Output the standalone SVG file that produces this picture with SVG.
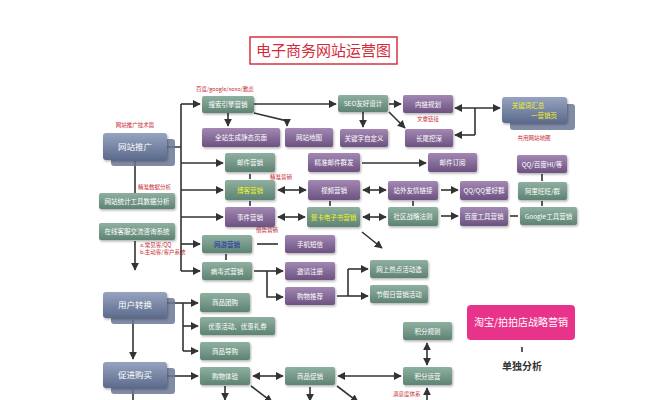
<svg xmlns="http://www.w3.org/2000/svg" width="667" height="400" viewBox="0 0 667 400">
<defs>
<linearGradient id="gg" x1="0" y1="0" x2="0" y2="1"><stop offset="0" stop-color="#8fb0a0"/><stop offset="1" stop-color="#5e8373"/></linearGradient>
<linearGradient id="gp" x1="0" y1="0" x2="0" y2="1"><stop offset="0" stop-color="#a288b2"/><stop offset="1" stop-color="#6d5282"/></linearGradient>
<linearGradient id="gb" x1="0" y1="0" x2="0" y2="1"><stop offset="0" stop-color="#97a4c0"/><stop offset="1" stop-color="#5b6a8c"/></linearGradient>
<filter id="sh" x="-20%" y="-20%" width="140%" height="160%"><feDropShadow dx="1" dy="1.5" stdDeviation="1" flood-color="#000" flood-opacity="0.3"/></filter>
<marker id="ar" viewBox="0 0 10 10" refX="9" refY="5" markerWidth="5" markerHeight="5" orient="auto-start-reverse"><path d="M0,0 L10,5 L0,10 z" fill="#333"/></marker>
</defs>
<style>
text{font-family:"Noto Sans CJK SC","Noto Sans",sans-serif}
.g{fill:url(#gg);filter:url(#sh)}
.p{fill:url(#gp);filter:url(#sh)}
.b{fill:url(#gb);filter:url(#sh)}
.bs{fill:#6a7797;opacity:0.85}
.t{fill:#fff;font-size:6.5px;text-anchor:middle}
.tb{fill:#fff;font-size:8.5px;text-anchor:middle}
.ty{fill:#f2f21a;font-size:6.5px;text-anchor:middle}
.r{fill:#c62a33;font-size:5.5px}
.c{stroke:#333;stroke-width:1.6;fill:none}
.a{marker-end:url(#ar)}
.d{marker-start:url(#ar);marker-end:url(#ar)}
</style>
<rect width="667" height="400" fill="#fff"/>

<g id="title">
<rect x="250" y="37" width="147" height="27" fill="#fff" stroke="#d9333f" stroke-width="1.5"/>
<text x="323.5" y="56" font-size="15" fill="#d42a3a" text-anchor="middle">电子商务网站运营图</text>
</g>

<g id="labels">
<text class="r" x="135" y="127" text-anchor="middle">网站推广技术篇</text>
<text class="r" x="196" y="91">百度/google/soso/雅虎</text>
<text class="r" x="428" y="121" text-anchor="middle">文章链接</text>
<text class="r" x="534" y="140" text-anchor="middle">共用网站地图</text>
<text class="r" x="138" y="189">精准数据分析</text>
<text class="r" x="140" y="247">a.常见客/QQ</text>
<text class="r" x="140" y="254">b.主动客/客户系统</text>
<text class="r" x="270" y="179">精准营销</text>
<text class="r" x="256" y="232">借势营销</text>
<text class="r" x="393" y="396">满意度体系</text>
</g>

<g id="connectors">
<path class="c" d="M167,147 H181 M181,104 V271"/>
<path class="c a" d="M181,104 H200"/>
<path class="c a" d="M181,163 H223"/>
<path class="c a" d="M181,190 H223"/>
<path class="c a" d="M181,217 H223"/>
<path class="c a" d="M181,244 H200"/>
<path class="c a" d="M181,271 H200"/>
<path class="c" d="M135,161 V193"/>
<path class="c a" d="M135,241 V270"/>
<path class="c a" d="M254,104 H336"/>
<path class="c a" d="M228,113 V126"/>
<path class="c a" d="M254,113 L287,121 V126"/>
<path class="c a" d="M389,104 H401"/>
<path class="c a" d="M363,112 V127"/>
<path class="c a" d="M389,112 L405,128"/>
<path class="c d" d="M455,108 H500"/>
<path class="c" d="M475,108 V135"/>
<path class="c a" d="M475,135 H455"/>
<path class="c a" d="M362,163 H426"/>
<path class="c" d="M250,174 V179 M250,201 V206 M330,201 V206 M413,201 V206 M542,174 V181 M542,201 V206 M226,254 V260 M522,347 V352"/>
<path class="c d" d="M278,190 H306"/>
<path class="c d" d="M363,190 H386"/>
<path class="c a" d="M441,190 H458"/>
<path class="c d" d="M278,217 H305"/>
<path class="c d" d="M363,217 H386"/>
<path class="c a" d="M441,216 H458"/>
<path class="c" d="M510,216 H518"/>
<path class="c" d="M257,244 H278"/>
<path class="c a" d="M362,232 L382,248"/>
<path class="c a" d="M254,271 H283"/>
<path class="c a" d="M267,271 V297 H283"/>
<path class="c" d="M337,296 H348 M348,269 V296"/>
<path class="c a" d="M348,269 H368"/>
<path class="c a" d="M348,296 H368"/>
<path class="c a" d="M167,303 H198"/>
<path class="c" d="M183,303 V351"/>
<path class="c a" d="M183,326 H198"/>
<path class="c a" d="M183,351 H198"/>
<path class="c a" d="M133,320 V359"/>
<path class="c a" d="M167,376 H198"/>
<path class="c" d="M133,390 V400"/>
<path class="c d" d="M253,376 H283"/>
<path class="c d" d="M338,376 H401"/>
<path class="c d" d="M427,343 V365"/>
<path class="c a" d="M427,400 V388"/>
<path class="c a" d="M225,386 V400"/>
<path class="c a" d="M251,386 L272,402"/>
<path class="c a" d="M310,387 V401"/>
<path class="c a" d="M337,386 L358,402"/>
</g>

<g id="n-tuiguang"><rect class="bs" x="111" y="139" width="64" height="27" rx="3"/><rect class="b" x="103" y="133" width="64" height="27" rx="3"/><text class="tb" x="135" y="149.5">网站推广</text></g>
<g id="n-tongji"><rect class="g" x="99" y="193" width="76" height="16" rx="2"/><text class="t" x="137" y="203.5">网站统计工具数据分析</text></g>
<g id="n-kefu"><rect class="g" x="99" y="223" width="76" height="17" rx="2"/><text class="t" x="137" y="234">在线客服交流咨询系统</text></g>

<g id="n-sousuo"><rect class="g" x="202" y="96" width="52" height="17" rx="2"/><text class="t" x="228" y="107">搜索引擎营销</text></g>
<g id="n-seo"><rect class="g" x="338" y="95" width="50" height="17" rx="2"/><text class="t" x="363" y="106">SEO友好设计</text></g>
<g id="n-neilian"><rect class="p" x="403" y="95" width="50" height="18" rx="2"/><text class="t" x="428" y="106.5">内链规划</text></g>
<g id="n-changwei"><rect class="p" x="405" y="129" width="48" height="18" rx="2"/><text class="t" x="429" y="140.5">长尾挖深</text></g>
<g id="n-guanjianzi"><rect class="p" x="340" y="129" width="48" height="18" rx="2"/><text class="t" x="364" y="140.5">关键字自定义</text></g>
<g id="n-quanzhan"><rect class="p" x="202" y="128" width="78" height="19" rx="2"/><text class="t" x="241" y="140">全站生成静态页面</text></g>
<g id="n-ditu"><rect class="p" x="285" y="128" width="48" height="19" rx="2"/><text class="t" x="309" y="140">网站地图</text></g>
<g id="n-huizong"><rect class="bs" x="510" y="104" width="65" height="26" rx="3"/><rect class="b" x="502" y="97" width="65" height="26" rx="3"/><text class="ty" x="528" y="108">关键词汇总</text><text class="ty" x="544" y="118">一营销页</text></g>

<g id="n-youjian"><rect class="g" x="225" y="153" width="50" height="19" rx="2"/><text class="t" x="250" y="165">邮件营销</text></g>
<g id="n-jingzhun"><rect class="p" x="308" y="153" width="52" height="19" rx="2"/><text class="t" x="334" y="165">精准邮件群发</text></g>
<g id="n-dingyue"><rect class="p" x="428" y="153" width="49" height="19" rx="2"/><text class="t" x="452.5" y="165">邮件订阅</text></g>
<g id="n-qqhi"><rect class="p" x="517" y="155" width="50" height="18" rx="2"/><text class="t" x="542" y="166.5">QQ/百度HI/等</text></g>

<g id="n-boke"><rect class="g" x="225" y="180" width="50" height="20" rx="2"/><text class="ty" x="250" y="192.5">博客营销</text></g>
<g id="n-shipin"><rect class="p" x="308" y="180" width="52" height="20" rx="2"/><text class="t" x="334" y="192.5">视频营销</text></g>
<g id="n-zhanwai"><rect class="p" x="388" y="181" width="50" height="19" rx="2"/><text class="t" x="413" y="193">站外友情链接</text></g>
<g id="n-qqqun"><rect class="p" x="460" y="181" width="48" height="19" rx="2"/><text class="t" x="484" y="193">QQ/QQ爱好群</text></g>
<g id="n-ali"><rect class="g" x="518" y="182" width="49" height="18" rx="2"/><text class="t" x="542.5" y="193.5">阿里旺旺/群</text></g>

<g id="n-shijian"><rect class="p" x="225" y="207" width="50" height="20" rx="2"/><text class="t" x="250" y="219.5">事件营销</text></g>
<g id="n-heka"><rect class="g" x="307" y="207" width="53" height="20" rx="2"/><text class="ty" x="333.5" y="219.5">贺卡电子书营销</text></g>
<g id="n-shequ"><rect class="g" x="388" y="207" width="50" height="19" rx="2"/><text class="t" x="413" y="219">社区战略法则</text></g>
<g id="n-baidu"><rect class="p" x="460" y="207" width="48" height="19" rx="2"/><text class="t" x="484" y="219">百度工具营销</text></g>
<g id="n-google"><rect class="g" x="520" y="207" width="57" height="18" rx="2"/><text class="t" x="548.5" y="218.5">Google工具营销</text></g>

<g id="n-wangyou"><rect class="g" x="202" y="235" width="50" height="18" rx="2"/><text x="227" y="246.5" font-size="6.5" fill="#1c2aa8" text-anchor="middle">网游营销</text></g>
<g id="n-shouji"><rect class="p" x="285" y="235" width="50" height="18" rx="2"/><text class="t" x="310" y="246.5">手机短信</text></g>
<g id="n-bingdu"><rect class="g" x="202" y="262" width="50" height="18" rx="2"/><text class="t" x="227" y="273.5">病毒式营销</text></g>
<g id="n-yaoqing"><rect class="p" x="285" y="262" width="50" height="18" rx="2"/><text class="t" x="310" y="273.5">邀请注册</text></g>
<g id="n-gouwutj"><rect class="p" x="285" y="287" width="50" height="18" rx="2"/><text class="t" x="310" y="298.5">购物推荐</text></g>
<g id="n-redian"><rect class="g" x="370" y="260" width="58" height="18" rx="2"/><text class="t" x="399" y="271.5">网上热点活动选</text></g>
<g id="n-jiajiari"><rect class="g" x="370" y="285" width="58" height="18" rx="2"/><text class="t" x="399" y="296.5">节假日营销活动</text></g>

<g id="n-yonghu"><rect class="bs" x="111" y="298" width="64" height="26" rx="3"/><rect class="b" x="103" y="292" width="64" height="26" rx="3"/><text class="tb" x="135" y="308">用户转换</text></g>
<g id="n-tuangou"><rect class="g" x="200" y="293" width="50" height="19" rx="2"/><text class="t" x="225" y="305">商品团购</text></g>
<g id="n-youhui"><rect class="g" x="200" y="317" width="75" height="18" rx="2"/><text class="t" x="237.5" y="328.5">优惠活动、优惠礼券</text></g>
<g id="n-daogou"><rect class="g" x="200" y="342" width="50" height="18" rx="2"/><text class="t" x="225" y="353.5">商品导购</text></g>

<g id="n-cujin"><rect class="bs" x="111" y="368" width="64" height="26" rx="3"/><rect class="b" x="103" y="362" width="64" height="26" rx="3"/><text class="tb" x="135" y="378">促进购买</text></g>
<g id="n-tiyan"><rect class="g" x="200" y="367" width="50" height="18" rx="2"/><text class="t" x="225" y="378.5">购物体验</text></g>
<g id="n-cuxiao"><rect class="g" x="285" y="367" width="50" height="18" rx="2"/><text class="t" x="310" y="378.5">商品促销</text></g>
<g id="n-yunying"><rect class="g" x="403" y="367" width="49" height="18" rx="2"/><text class="t" x="427.5" y="378.5">积分运营</text></g>
<g id="n-guize"><rect class="g" x="403" y="322" width="49" height="18" rx="2"/><text class="t" x="427.5" y="333.5">积分规则</text></g>

<g id="n-taobao"><rect x="467" y="305" width="108" height="35" rx="4" fill="#e8338a"/><text x="521" y="326" font-size="10" fill="#fff" text-anchor="middle">淘宝/拍拍店战略营销</text></g>
<g id="n-danduo"><text x="522" y="370" font-size="10" font-weight="bold" fill="#333" text-anchor="middle">单独分析</text></g>
</svg>
